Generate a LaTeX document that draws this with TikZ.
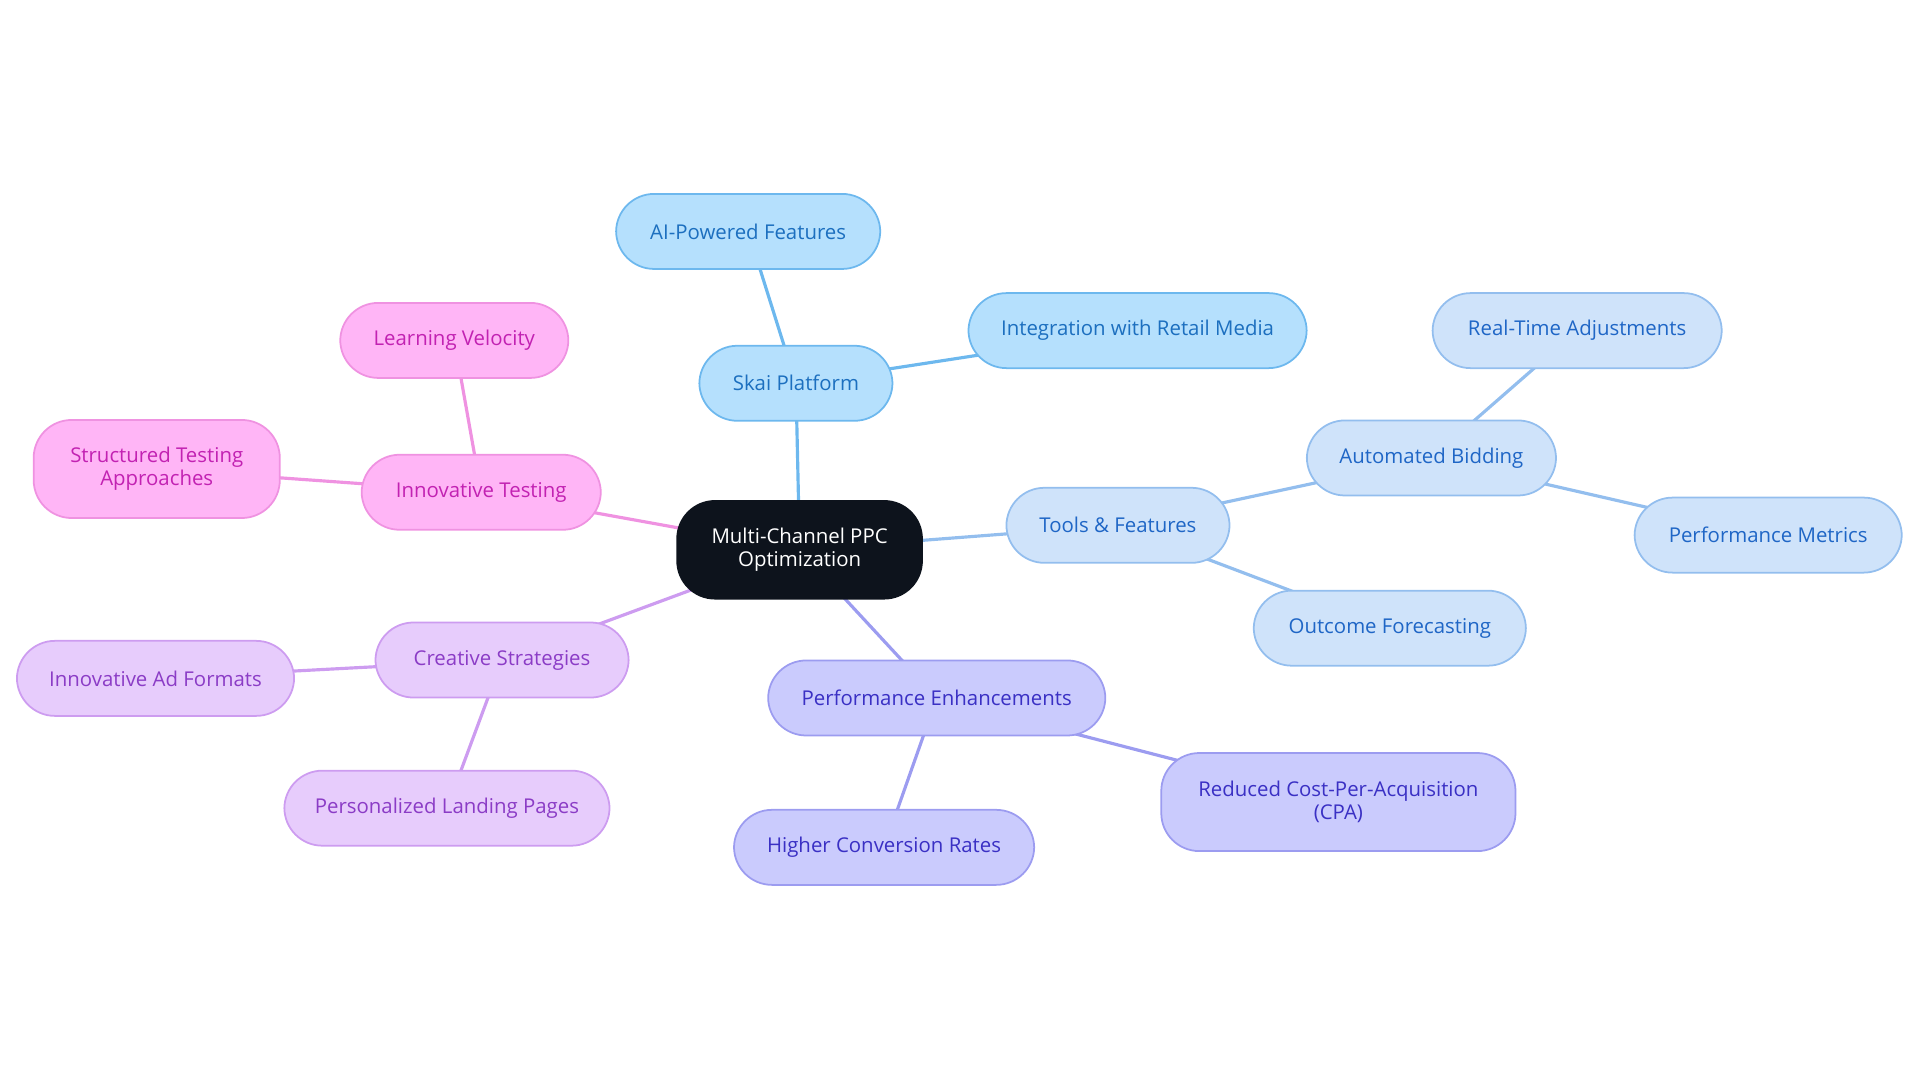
\documentclass[tikz,border=0pt]{standalone}
\usepackage{fontspec}
\setmainfont{Open Sans}
\usepackage{tikz}

\definecolor{skaiF}{HTML}{B5E0FD}\definecolor{skaiD}{HTML}{6DB8EE}\definecolor{skaiT}{HTML}{1C6FBF}
\definecolor{toolF}{HTML}{CFE3FA}\definecolor{toolD}{HTML}{93BEEE}\definecolor{toolT}{HTML}{1F66C6}
\definecolor{perfF}{HTML}{CACBFD}\definecolor{perfD}{HTML}{9C9CF0}\definecolor{perfT}{HTML}{3A30C4}
\definecolor{creaF}{HTML}{E7CCFC}\definecolor{creaD}{HTML}{CD9CF0}\definecolor{creaT}{HTML}{8B3CC6}
\definecolor{testF}{HTML}{FFB5F6}\definecolor{testD}{HTML}{EF92E1}\definecolor{testT}{HTML}{C222B2}
\definecolor{rootF}{HTML}{0D131C}

\begin{document}
\begin{tikzpicture}[x=0.012245cm,y=-0.012245cm,
  every node/.style={font=\fontsize{5.8}{6.6}\selectfont,align=center},
  leaf/.style n args={3}{draw=#2,fill=#1,text=#3,line width=0.5pt,rounded corners=0.38cm,minimum height=0.75cm,inner sep=1pt},
  link/.style={draw=#1,line width=0.9pt}]
\useasboundingbox (0,0) rectangle (1568,884);
% coordinates of the node centres
\coordinate (root) at (653,449);
\coordinate (skai) at (650,313);
\coordinate (ai) at (611,189);
\coordinate (retail) at (929,270);
\coordinate (tools) at (913,429);
\coordinate (bid) at (1169,374);
\coordinate (rta) at (1288,270);
\coordinate (metrics) at (1444,437);
\coordinate (fcst) at (1135,513);
\coordinate (perf) at (765,570);
\coordinate (conv) at (722,692);
\coordinate (cpa) at (1093,655);
\coordinate (crea) at (410,539);
\coordinate (adfmt) at (127,554);
\coordinate (landing) at (365,660);
\coordinate (test) at (393,402);
\coordinate (velo) at (371,278);
\coordinate (struct) at (128,383);
% links
\draw[link=skaiD] (root) -- (skai) (skai) -- (ai) (skai) -- (retail);
\draw[link=toolD] (root) -- (tools) (tools) -- (bid) (bid) -- (rta) (bid) -- (metrics) (tools) -- (fcst);
\draw[link=perfD] (root) -- (perf) (perf) -- (conv) (perf) -- (cpa);
\draw[link=creaD] (root) -- (crea) (crea) -- (adfmt) (crea) -- (landing);
\draw[link=testD] (root) -- (test) (test) -- (velo) (test) -- (struct);
% root
\node[draw=rootF,fill=rootF,text=white,rounded corners=0.38cm,minimum width=2.45cm,minimum height=0.98cm] (rootN) at (root) {Multi-Channel PPC\\Optimization};
% Skai branch
\node[leaf={skaiF}{skaiD}{skaiT},minimum width=1.93cm] (skaiN) at (skai) {Skai Platform};
\node[leaf={skaiF}{skaiD}{skaiT},minimum width=2.64cm] (aiN) at (ai) {AI-Powered Features};
\node[leaf={skaiF}{skaiD}{skaiT},minimum width=3.38cm] (retailN) at (retail) {Integration with Retail Media};
% tools branch
\node[leaf={toolF}{toolD}{toolT},minimum width=2.23cm] (toolsN) at (tools) {Tools \& Features};
\node[leaf={toolF}{toolD}{toolT},minimum width=2.49cm] (bidN) at (bid) {Automated Bidding};
\node[leaf={toolF}{toolD}{toolT},minimum width=2.89cm] (rtaN) at (rta) {Real-Time Adjustments};
\node[leaf={toolF}{toolD}{toolT},minimum width=2.67cm] (metricsN) at (metrics) {Performance Metrics};
\node[leaf={toolF}{toolD}{toolT},minimum width=2.72cm] (fcstN) at (fcst) {Outcome Forecasting};
% performance branch
\node[leaf={perfF}{perfD}{perfT},minimum width=3.37cm] (perfN) at (perf) {Performance Enhancements};
\node[leaf={perfF}{perfD}{perfT},minimum width=3.0cm] (convN) at (conv) {Higher Conversion Rates};
\node[leaf={perfF}{perfD}{perfT},minimum width=3.54cm,minimum height=0.98cm] (cpaN) at (cpa) {Reduced Cost-Per-Acquisition\\(CPA)};
% creative branch
\node[leaf={creaF}{creaD}{creaT},minimum width=2.53cm] (creaN) at (crea) {Creative Strategies};
\node[leaf={creaF}{creaD}{creaT},minimum width=2.77cm] (adfmtN) at (adfmt) {Innovative Ad Formats};
\node[leaf={creaF}{creaD}{creaT},minimum width=3.25cm] (landingN) at (landing) {Personalized Landing Pages};
% testing branch
\node[leaf={testF}{testD}{testT},minimum width=2.39cm] (testN) at (test) {Innovative Testing};
\node[leaf={testF}{testD}{testT},minimum width=2.28cm] (veloN) at (velo) {Learning Velocity};
\node[leaf={testF}{testD}{testT},minimum width=2.46cm,minimum height=0.98cm] (structN) at (struct) {Structured Testing\\Approaches};
\end{tikzpicture}
\end{document}
